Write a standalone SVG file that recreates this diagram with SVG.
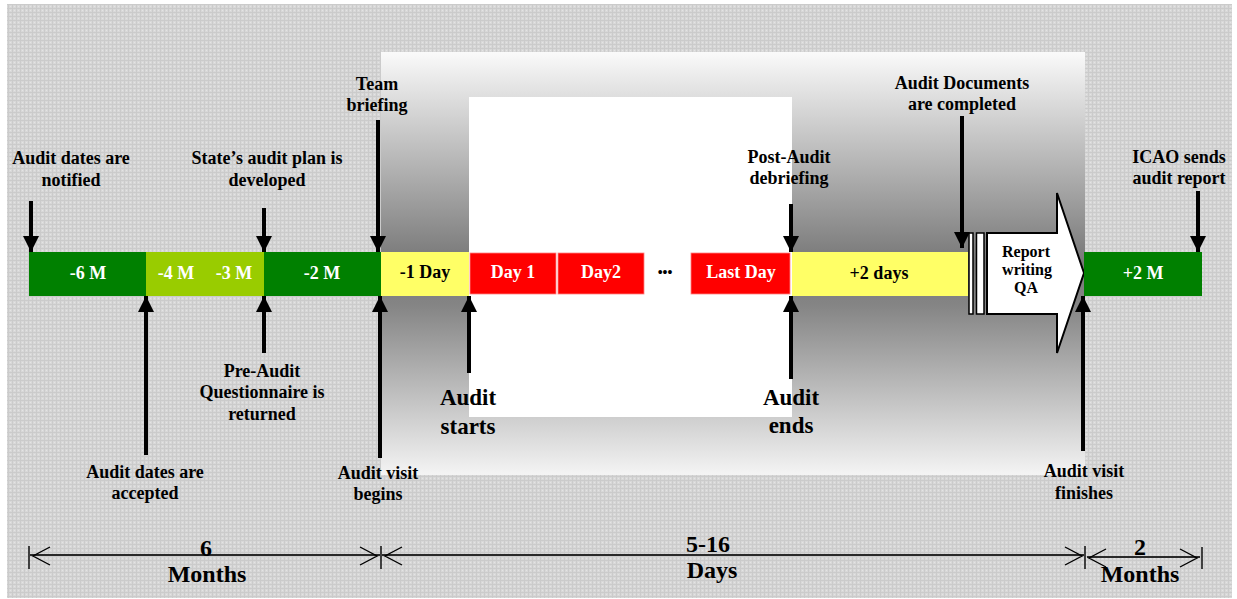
<svg xmlns="http://www.w3.org/2000/svg" width="1237" height="599" viewBox="0 0 1237 599">
<style>
text{font-family:"Liberation Serif","Times New Roman",serif;font-weight:bold;text-anchor:middle}
.lbl{font-size:18px;fill:#000}
.big{font-size:23px;fill:#000}
.bw{font-size:18px;fill:#fff}
.bb{font-size:18px;fill:#000}
.dim{font-size:24px;fill:#000}
.rep{font-size:16px;fill:#000}
.arr{stroke:#000;stroke-width:4;fill:none}
.dl{stroke:#2a2a2a;stroke-width:2;fill:none}
.oh{stroke:#000;stroke-width:1.4;fill:none}
</style>
<defs>
<pattern id="bgp" width="4" height="4" patternUnits="userSpaceOnUse">
<rect width="4" height="4" fill="#d8d8d8"/>
<rect x="0" y="0" width="4" height="1" fill="#cbcbcb"/>
<rect x="0" y="0" width="1" height="4" fill="#cbcbcb"/>
<rect x="2" y="2" width="1" height="1" fill="#e4e4e4"/>
</pattern>
<linearGradient id="pg" x1="0" y1="0" x2="0" y2="1">
<stop offset="0" stop-color="#fafafa"/>
<stop offset="0.5" stop-color="#777777"/>
<stop offset="0.6" stop-color="#858585"/>
<stop offset="1" stop-color="#f4f4f4"/>
</linearGradient>
<marker id="ah" viewBox="0 0 16 16" refX="16" refY="8" markerWidth="16" markerHeight="16" markerUnits="userSpaceOnUse" orient="auto">
<path d="M0,0 L16,8 L0,16 z" fill="#000"/>
</marker>
</defs>

<g id="background">
<rect x="0" y="0" width="1237" height="599" fill="#ffffff"/>
<rect x="7" y="4" width="1225" height="594" fill="url(#bgp)"/>
<rect x="381" y="52" width="704" height="423" fill="url(#pg)"/>
<rect x="469" y="97" width="323" height="320" fill="#ffffff"/>
</g>

<g id="bar-6m"><rect x="29" y="252" width="117" height="44" fill="#008000"/><text class="bw" x="88" y="279">-6 M</text></g>
<g id="bar-4m-3m"><rect x="146" y="252" width="118" height="44" fill="#99cc00"/><text class="bw" x="176" y="279">-4 M</text><text class="bw" x="234" y="279">-3 M</text></g>
<g id="bar-2m"><rect x="264" y="252" width="117" height="44" fill="#008000"/><text class="bw" x="322" y="279">-2 M</text></g>
<g id="bar-1day"><rect x="381" y="252" width="88" height="44" fill="#ffff66"/><text class="bb" x="425" y="278">-1 Day</text></g>
<g id="bar-day1"><rect x="470" y="253" width="86" height="41" fill="#ff0000" stroke="#ff8080" stroke-width="0.8"/><text class="bw" x="513" y="278">Day 1</text></g>
<g id="bar-day2"><rect x="558" y="253" width="86" height="41" fill="#ff0000" stroke="#ff8080" stroke-width="0.8"/><text class="bw" x="601" y="278">Day2</text></g>
<g id="ellipsis"><text x="665" y="277" style="font-size:14px;fill:#000">•••</text></g>
<g id="bar-lastday"><rect x="691" y="253" width="99" height="41" fill="#ff0000" stroke="#ff8080" stroke-width="0.8"/><text class="bw" x="741" y="278">Last Day</text></g>
<g id="bar-plus2days"><rect x="792" y="252" width="176" height="44" fill="#ffff66"/><text class="bb" x="879" y="279">+2 days</text></g>
<g id="report-arrow">
<rect x="969" y="233" width="4" height="81" fill="#fff" stroke="#000" stroke-width="1.5"/>
<rect x="976.5" y="233" width="7.5" height="81" fill="#fff" stroke="#000" stroke-width="1.5"/>
<polygon points="987,233 1057,233 1057,193 1084,273 1057,353 1057,314 987,314" fill="#fff" stroke="#000" stroke-width="2"/>
<text class="rep" x="1026" y="257">Report</text>
<text class="rep" x="1027" y="275">writing</text>
<text class="rep" x="1026" y="293">QA</text>
</g>
<g id="bar-plus2m"><rect x="1084" y="252" width="118" height="44" fill="#008000"/><text class="bw" x="1143" y="279">+2 M</text></g>

<g id="label-notified"><text class="lbl" x="71" y="164">Audit dates are</text><text class="lbl" x="71" y="186">notified</text></g>
<g id="label-plan"><text class="lbl" x="267" y="164">State’s audit plan is</text><text class="lbl" x="267" y="186">developed</text></g>
<g id="label-team"><text class="lbl" x="377" y="90">Team</text><text class="lbl" x="377" y="111">briefing</text></g>
<g id="label-postaudit"><text class="lbl" x="789" y="163">Post-Audit</text><text class="lbl" x="789" y="184">debriefing</text></g>
<g id="label-documents"><text class="lbl" x="962" y="89">Audit Documents</text><text class="lbl" x="962" y="110">are completed</text></g>
<g id="label-icao"><text class="lbl" x="1179" y="163">ICAO sends</text><text class="lbl" x="1179" y="184">audit report</text></g>
<g id="label-accepted"><text class="lbl" x="145" y="478">Audit dates are</text><text class="lbl" x="145" y="499">accepted</text></g>
<g id="label-questionnaire"><text class="lbl" x="262" y="377">Pre-Audit</text><text class="lbl" x="262" y="398">Questionnaire is</text><text class="lbl" x="262" y="420">returned</text></g>
<g id="label-visitbegins"><text class="lbl" x="378" y="479">Audit visit</text><text class="lbl" x="378" y="500">begins</text></g>
<g id="label-starts"><text class="big" x="468" y="405">Audit</text><text class="big" x="468" y="434">starts</text></g>
<g id="label-ends"><text class="big" x="791" y="405">Audit</text><text class="big" x="791" y="433">ends</text></g>
<g id="label-visitfinishes"><text class="lbl" x="1084" y="477">Audit visit</text><text class="lbl" x="1084" y="499">finishes</text></g>

<g id="connectors">
<line class="arr" x1="31" y1="201" x2="31" y2="252" marker-end="url(#ah)"/>
<line class="arr" x1="264" y1="208" x2="264" y2="252" marker-end="url(#ah)"/>
<line class="arr" x1="378" y1="120" x2="378" y2="252" marker-end="url(#ah)"/>
<line class="arr" x1="791" y1="204" x2="791" y2="252" marker-end="url(#ah)"/>
<line class="arr" x1="962" y1="116" x2="962" y2="248" marker-end="url(#ah)"/>
<line class="arr" x1="1198" y1="191" x2="1198" y2="252" marker-end="url(#ah)"/>
<line class="arr" x1="146" y1="455" x2="146" y2="296" marker-end="url(#ah)"/>
<line class="arr" x1="264" y1="353" x2="264" y2="296" marker-end="url(#ah)"/>
<line class="arr" x1="380" y1="458" x2="380" y2="296" marker-end="url(#ah)"/>
<line class="arr" x1="469" y1="373" x2="469" y2="296" marker-end="url(#ah)"/>
<line class="arr" x1="791" y1="379" x2="791" y2="296" marker-end="url(#ah)"/>
<line class="arr" x1="1083" y1="451" x2="1083" y2="296" marker-end="url(#ah)"/>
</g>

<g id="dim-6months">
<line class="dl" x1="30" y1="555" x2="380" y2="555"/>
<line class="oh" x1="29" y1="546" x2="29" y2="569"/>
<polyline class="oh" points="50,547 33,556 50,565"/>
<polyline class="oh" points="360,547 377,556 360,565"/>
<line class="oh" x1="381" y1="546" x2="381" y2="569"/>
<text class="dim" x="206" y="556">6</text>
<text class="dim" x="207" y="582">Months</text>
</g>
<g id="dim-days">
<line class="dl" x1="382" y1="555" x2="1084" y2="555"/>
<polyline class="oh" points="402,547 385,556 402,565"/>
<polyline class="oh" points="1065,547 1082,556 1065,565"/>
<line class="oh" x1="1085" y1="546" x2="1085" y2="569"/>
<text class="dim" x="708" y="552">5-16</text>
<text class="dim" x="712" y="578">Days</text>
</g>
<g id="dim-2months">
<line class="dl" x1="1087" y1="557" x2="1200" y2="557"/>
<polyline class="oh" points="1106,549 1089,558 1106,567"/>
<polyline class="oh" points="1180,549 1197,558 1180,567"/>
<line class="oh" x1="1202" y1="547" x2="1202" y2="569"/>
<text class="dim" x="1140" y="555">2</text>
<text class="dim" x="1140" y="582">Months</text>
</g>
</svg>
